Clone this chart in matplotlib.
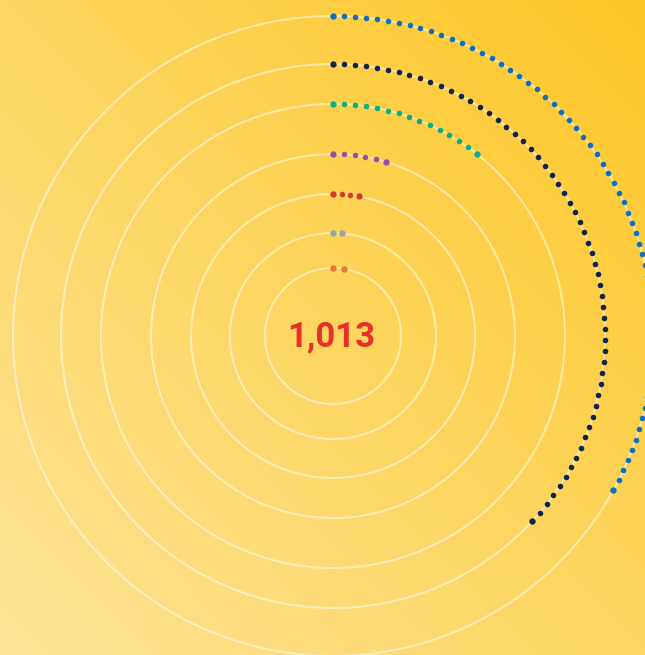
import numpy as np
import matplotlib
matplotlib.use("Agg")
import matplotlib.pyplot as plt
from matplotlib.colors import LinearSegmentedColormap

# data, inner ring -> outer ring
series = ["orange", "grey", "red", "purple", "green", "navy", "blue"]
values = [28, 15, 32, 52, 117, 406, 363]
colors = ["#E8782C", "#9AA2AC", "#D23A2B", "#9B4CA7", "#05B08A", "#13234E", "#0B6FC3"]
scale_max = 1100

W, H = 645, 655
cx, cy = 333, 336
radii = [68, 103, 142, 182, 232, 272, 320]
spacing = 11.2

fig = plt.figure(figsize=(W / 100, H / 100), dpi=100)
ax = fig.add_axes([0, 0, 1, 1])
ax.set_xlim(0, W)
ax.set_ylim(H, 0)
ax.set_aspect("equal")
ax.axis("off")

# background gradient, light bottom-left to saturated top-right
gx, gy = np.meshgrid(np.linspace(0, 1, 200), np.linspace(0, 1, 200))
g = (gx + (1 - gy)) / 2
cmap = LinearSegmentedColormap.from_list("bg", ["#FEE398", "#FDD660", "#FFC627"])
ax.imshow(g, extent=[0, W, 0, H], origin="lower", cmap=cmap, zorder=0, aspect="auto")
ax.set_ylim(H, 0)

t = np.linspace(0, 2 * np.pi, 400)
for r in radii:
    ax.plot(cx + r * np.cos(t), cy + r * np.sin(t), color="white", alpha=0.5, lw=1.5, zorder=1)

for r, v, c in zip(radii, values, colors):
    ang = v / scale_max * 2 * np.pi
    L = r * ang
    n = int(np.ceil(L / spacing))
    a = np.linspace(0, ang, n + 1)
    x = cx + r * np.sin(a)
    y = cy - r * np.cos(a)
    ax.scatter(x[1:-1], y[1:-1], s=16, color=c, lw=0, zorder=3)
    ax.scatter(x[[0, -1]], y[[0, -1]], s=21, color=c, lw=0, zorder=3)

ax.text(cx - 2, cy + 1, f"{sum(values):,}", ha="center", va="center",
        fontsize=25, fontweight="bold", color="#E8302A", family=["Roboto", "DejaVu Sans"], zorder=4)

fig.savefig("out.png", dpi=100)
